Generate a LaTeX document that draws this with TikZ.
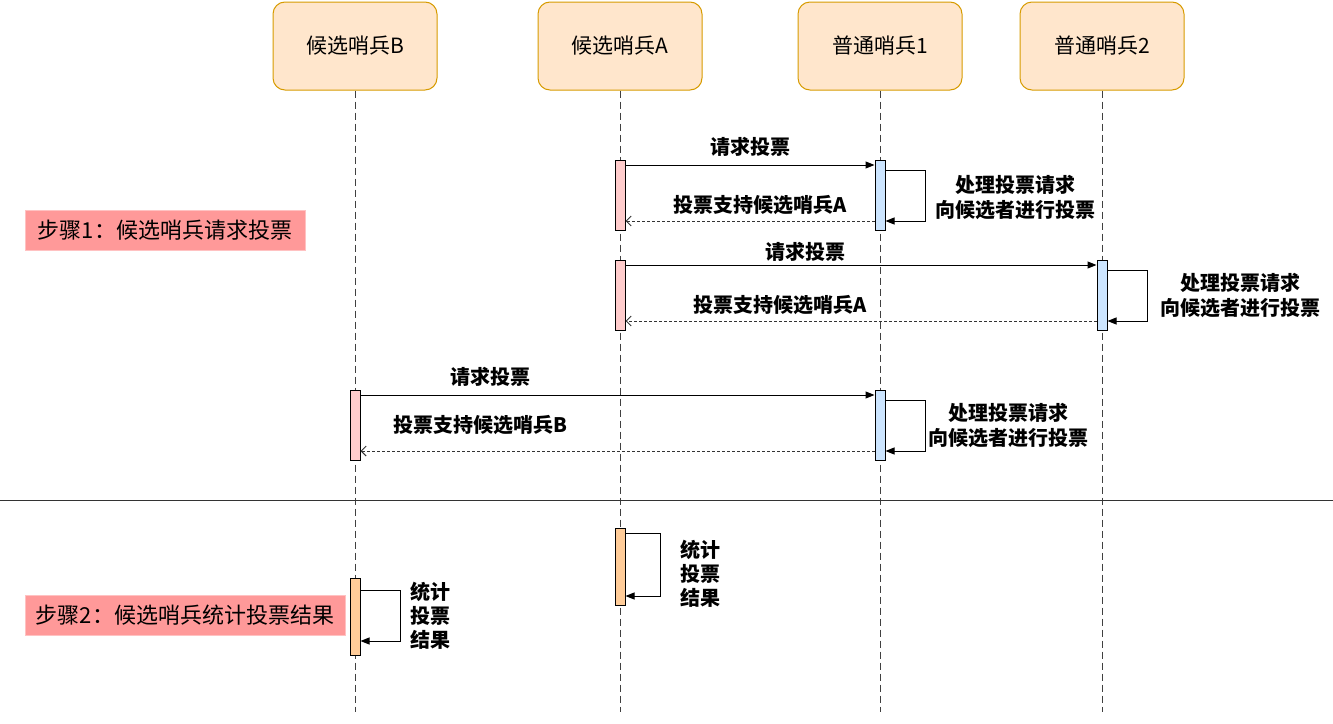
\documentclass[tikz,border=0pt]{standalone}
\usepackage{fontspec}
\setmainfont{Noto Sans CJK SC}
\usetikzlibrary{arrows.meta}
\definecolor{headfill}{HTML}{FFE6CC}
\definecolor{headline}{HTML}{D79B00}
\definecolor{barred}{HTML}{FFCCCC}
\definecolor{barblue}{HTML}{CCE5FF}
\definecolor{barorange}{HTML}{FFCC99}
\definecolor{stepfill}{HTML}{FF9999}
\tikzset{
	head/.style={draw=headline, fill=headfill, rounded corners=12pt, minimum width=164pt, minimum height=88pt, font=\fontsize{21}{25}\selectfont},
	act/.style={draw=black, fill=#1, minimum width=10pt, inner sep=0pt, anchor=north},
	life/.style={draw=black!75, dash pattern=on 7pt off 4pt},
	msg/.style={-{Triangle[length=9pt,width=7pt]}},
	reply/.style={draw=black!80, dash pattern=on 3pt off 2pt, -{Straight Barb[length=5pt,width=10pt]}},
	lbl/.style={font=\bfseries\fontsize{20}{25}\selectfont, align=center},
	stepnote/.style={fill=stepfill, draw=stepfill!60, minimum height=40pt, font=\fontsize{22}{26}\selectfont}
}
\begin{document}
\begin{tikzpicture}[x=1pt, y=-1pt, line width=1pt]
	\useasboundingbox (0,0) rectangle (1333,723);
	% sentinels
	\node[head] (candB) at (355,46)  {候选哨兵B};
	\node[head] (candA) at (620,46)  {候选哨兵A};
	\node[head] (norm1) at (880,46)  {普通哨兵1};
	\node[head] (norm2) at (1102,46) {普通哨兵2};
	\draw[life] (candB) -- (355,712);
	\draw[life] (candA) -- (620,712);
	\draw[life] (norm1) -- (880,712);
	\draw[life] (norm2) -- (1102,712);
	\draw[black!80] (0,500) -- (1333,500);
	% step 1
	\node[stepnote, minimum width=280pt] (step1) at (165,230) {步骤1：候选哨兵请求投票};
	\node[act=barred,  minimum height=70pt] (a1) at (620,160)  {};
	\node[act=barblue, minimum height=70pt] (p1) at (880,160)  {};
	\node[act=barred,  minimum height=70pt] (a2) at (620,260)  {};
	\node[act=barblue, minimum height=70pt] (p2) at (1102,260) {};
	\node[act=barred,  minimum height=70pt] (b1) at (355,390)  {};
	\node[act=barblue, minimum height=70pt] (p3) at (880,390)  {};
	\draw[msg] ([yshift=-5pt]a1.north east) -- ([yshift=-5pt]p1.north west);
	\draw[reply] ([yshift=10pt]p1.south west) -- ([yshift=10pt]a1.south east);
	\draw[msg] ([yshift=-10pt]p1.north east) -- ++(40,0) |- ([yshift=10pt]p1.south east);
	\node[lbl] (q1) at (750,147) {请求投票};
	\node[lbl] (v1) at (760,205) {投票支持候选哨兵A};
	\node[lbl] (h1) at (1015,197) {处理投票请求\\向候选者进行投票};
	\draw[msg] ([yshift=-5pt]a2.north east) -- ([yshift=-5pt]p2.north west);
	\draw[reply] ([yshift=10pt]p2.south west) -- ([yshift=10pt]a2.south east);
	\draw[msg] ([yshift=-10pt]p2.north east) -- ++(40,0) |- ([yshift=10pt]p2.south east);
	\node[lbl] (q2) at (805,252) {请求投票};
	\node[lbl] (v2) at (780,305) {投票支持候选哨兵A};
	\node[lbl] (h2) at (1240,295) {处理投票请求\\向候选者进行投票};
	\draw[msg] ([yshift=-5pt]b1.north east) -- ([yshift=-5pt]p3.north west);
	\draw[reply] ([yshift=10pt]p3.south west) -- ([yshift=10pt]b1.south east);
	\draw[msg] ([yshift=-10pt]p3.north east) -- ++(40,0) |- ([yshift=10pt]p3.south east);
	\node[lbl] (q3) at (490,377) {请求投票};
	\node[lbl] (v3) at (480,425) {投票支持候选哨兵B};
	\node[lbl] (h3) at (1008,425) {处理投票请求\\向候选者进行投票};
	% step 2
	\node[stepnote, minimum width=320pt] (step2) at (185,615) {步骤2：候选哨兵统计投票结果};
	\node[act=barorange, minimum height=77pt] (a3) at (620,528) {};
	\node[act=barorange, minimum height=77pt] (b2) at (355,578) {};
	\draw[msg] ([yshift=-5pt]a3.north east) -- ++(35,0) |- ([yshift=10pt]a3.south east);
	\draw[msg] ([yshift=-12pt]b2.north east) -- ++(40,0) |- ([yshift=15pt]b2.south east);
	\node[lbl, font=\bfseries\fontsize{20}{24}\selectfont] (c1) at (700,574) {统计\\投票\\结果};
	\node[lbl, font=\bfseries\fontsize{20}{24}\selectfont] (c2) at (430,616) {统计\\投票\\结果};
\end{tikzpicture}
\end{document}
